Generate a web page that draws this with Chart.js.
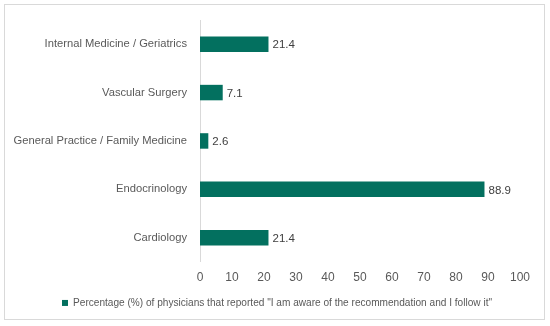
<!DOCTYPE html>
<html>
<head>
<meta charset="utf-8">
<script src="https://cdn.jsdelivr.net/npm/chart.js@4"></script>
<style>
  html, body { margin: 0; padding: 0; background: #fff; }
  #wrap { position: relative; width: 550px; height: 326px; }
  #frame { position: absolute; left: 4px; top: 4px; width: 541px; height: 316px; border: 1px solid #d9d9d9; box-sizing: border-box; }
  canvas { position: absolute; left: 0; top: 0; }
</style>
</head>
<body>
<div id="wrap">
  <div id="frame"></div>
  <canvas id="myChart" width="550" height="326"></canvas>
</div>
<script>
// chart data
const categories = ['Internal Medicine / Geriatrics', 'Vascular Surgery', 'General Practice / Family Medicine', 'Endocrinology', 'Cardiology'];
const values = [21.4, 7.1, 2.6, 88.9, 21.4];
const xTicks = [0, 10, 20, 30, 40, 50, 60, 70, 80, 90, 100];
const seriesName = 'Percentage (%) of physicians that reported "I am aware of the recommendation and I follow it"';

const fontFamily = "'Liberation Sans', Arial, sans-serif";
const textColor = '#595959';
const barColor = '#03705f';

// value labels at the end of each bar
const barLabels = {
  id: 'barLabels',
  afterDatasetsDraw(chart) {
    const ctx = chart.ctx;
    const meta = chart.getDatasetMeta(0);
    ctx.save();
    ctx.font = '11.5px ' + fontFamily;
    ctx.fillStyle = '#404040';
    ctx.textAlign = 'left';
    ctx.textBaseline = 'middle';
    meta.data.forEach((bar, i) => {
      ctx.fillText(values[i].toFixed(1), bar.x + 4, bar.y + 1);
    });
    ctx.restore();
  }
};

const ctx = document.getElementById('myChart');
const myChart = new Chart(ctx, {
  type: 'bar',
  data: {
    labels: categories,
    datasets: [{
      label: seriesName,
      data: values,
      backgroundColor: barColor,
      borderWidth: 0,
      barPercentage: 0.64,
      categoryPercentage: 0.5
    }]
  },
  options: {
    indexAxis: 'y',
    responsive: false,
    animation: false,
    layout: { padding: { top: 20, right: 0, bottom: 8, left: 4 } },
    plugins: {
      tooltip: { enabled: false },
      legend: {
        position: 'bottom',
        labels: {
          boxWidth: 6,
          boxHeight: 6,
          padding: 10,
          color: textColor,
          font: { family: fontFamily, size: 10.1 }
        }
      }
    },
    scales: {
      x: {
        min: 0,
        max: 100,
        afterBuildTicks: (axis) => { axis.ticks = xTicks.map(v => ({ value: v })); },
        grid: { display: false },
        border: { display: false },
        ticks: { color: textColor, padding: 1, font: { family: fontFamily, size: 12 } },
        afterFit: (axis) => { axis.height = 26; axis.paddingRight = 30; }
      },
      y: {
        grid: { display: false },
        border: { display: true, color: '#d9d9d9' },
        ticks: { color: textColor, padding: 5, font: { family: fontFamily, size: 11.2 } },
        afterFit: (axis) => { axis.width = 196; }
      }
    }
  },
  plugins: [barLabels]
});
</script>
</body>
</html>
